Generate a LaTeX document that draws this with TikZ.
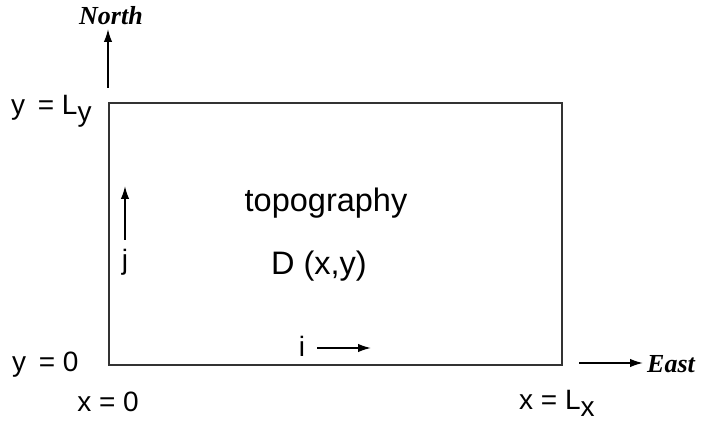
\documentclass[tikz,border=0pt]{standalone}
\usepackage{fontspec}
\setmainfont{Liberation Sans}
\newfontfamily\compassfont{Liberation Serif}
\usetikzlibrary{arrows.meta,positioning}
\newcommand{\lsub}[1]{L\raisebox{-0.25em}{#1}}

\begin{document}
\begin{tikzpicture}[x=1pt, y=1pt,
    frame/.style={draw=black!80, line width=2pt, minimum width=453pt,
                  minimum height=262pt, inner sep=0pt},
    arrow/.style={-{Latex[length=13pt,width=8.5pt]}, line width=1.6pt},
    txt/.style={font=\fontsize{32.5}{38}\selectfont, inner sep=0pt},
    lab/.style={font=\fontsize{28}{33}\selectfont, inner sep=0pt},
    dir/.style={font=\fontsize{26}{30}\selectfont\compassfont\bfseries\itshape, inner sep=0pt}
  ]
  \useasboundingbox (0,0) rectangle (702,423);
  % domain
  \node[frame, anchor=south west] (dom) at (108,57) {};
  \node[txt, anchor=base] (topo) at (326,211) {topography};
  \node[txt, anchor=base] (depth) at (319,148) {D (x,y)};
  % grid directions
  \node[lab, anchor=base] (iidx) at (302,66) {i};
  \coordinate (i0) at (317,75);
  \coordinate (i1) at (371,75);
  \draw[arrow] (i0) -- (i1);
  \node[lab, anchor=base] (jidx) at (125,153) {j};
  \coordinate (j0) at (125,183);
  \coordinate (j1) at (125,237);
  \draw[arrow] (j0) -- (j1);
  % compass
  \coordinate (n0) at ([yshift=14pt]dom.north west);
  \coordinate (n1) at ([yshift=73pt]dom.north west);
  \draw[arrow] (n0) -- (n1);
  \node[dir, anchor=base] (north) at (111,398) {North};
  \coordinate (e0) at ([xshift=16pt,yshift=3pt]dom.south east);
  \coordinate (e1) at ([xshift=80pt,yshift=3pt]dom.south east);
  \draw[arrow] (e0) -- (e1);
  \node[dir, anchor=base west] (east) at (647,50) {East};
  % bounds
  \node[lab, anchor=base west] (ytop) at (11,308) {y\hspace{0.45em}= \lsub{y}};
  \node[lab, anchor=base west] (ybot) at (12,51) {y\hspace{0.45em}= 0};
  \node[lab, anchor=base] (xlft) at (108,11) {x = 0};
  \node[lab, anchor=base west] (xrgt) at (519,13) {x = \lsub{x}};
\end{tikzpicture}
\end{document}
